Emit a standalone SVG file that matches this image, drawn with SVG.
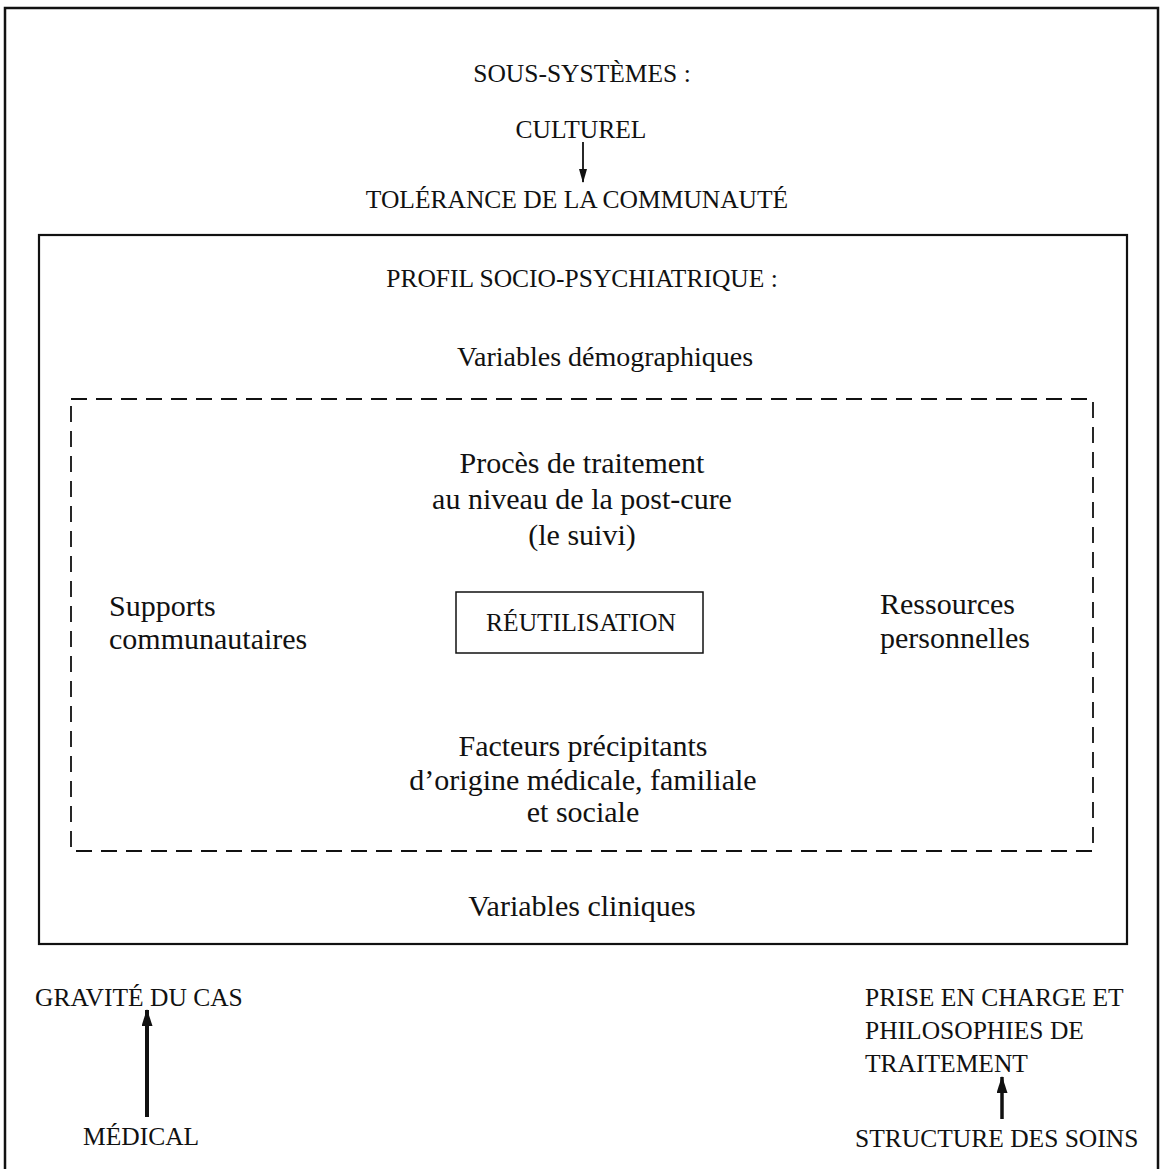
<svg xmlns="http://www.w3.org/2000/svg" width="1168" height="1169" viewBox="0 0 1168 1169">
<style>
text{font-family:"Liberation Serif","Times New Roman",serif;font-size:25.5px;fill:#111}
.lc{font-size:30px}
.c{text-anchor:middle}
.frame{fill:none;stroke:#111}
.arrow{stroke:#111;fill:none}
</style>
<defs>
<marker id="ahThin" markerWidth="14" markerHeight="8" refX="13" refY="4" orient="auto" markerUnits="userSpaceOnUse" viewBox="0 0 14 8">
<path d="M0,0 L14,4 L0,8 Z" fill="#111"/>
</marker>
<marker id="ahThick" markerWidth="17" markerHeight="11" refX="16" refY="5.5" orient="auto" markerUnits="userSpaceOnUse" viewBox="0 0 17 11">
<path d="M0,0 L17,5.5 L0,11 Z" fill="#111"/>
</marker>
</defs>
<rect width="1168" height="1169" fill="#fff"/>
<g id="outer-frame"><path class="frame" stroke-width="2.5" d="M5,1169 V8 H1158 V1169"/></g>
<g id="profil-box"><rect class="frame" stroke-width="2.2" x="39" y="235" width="1088" height="709"/></g>
<g id="dashed-box"><rect class="frame" stroke-width="1.8" stroke-dasharray="16 9" x="71" y="399" width="1022" height="452"/></g>

<g id="title"><text class="c" x="582" y="82">SOUS-SYSTÈMES :</text></g>
<g id="culturel"><text class="c" x="581" y="138">CULTUREL</text></g>
<g id="tolerance"><text class="c" x="577" y="208">TOLÉRANCE DE LA COMMUNAUTÉ</text></g>
<g id="profil"><text class="c" x="582" y="287">PROFIL SOCIO-PSYCHIATRIQUE :</text></g>
<g id="demographiques"><text class="c lc" x="605" y="366" style="font-size:28px">Variables démographiques</text></g>
<g id="proces"><text class="c lc" x="582" y="473">Procès de traitement</text><text class="c lc" x="582" y="509">au niveau de la post-cure</text><text class="c lc" x="582" y="545">(le suivi)</text></g>
<g id="supports"><text class="lc" x="109" y="616">Supports</text><text class="lc" x="109" y="649">communautaires</text></g>
<g id="reutilisation"><rect class="frame" stroke-width="1.5" x="456" y="592" width="247" height="61"/><text class="c" x="581" y="631">RÉUTILISATION</text></g>
<g id="ressources"><text class="lc" x="880" y="614">Ressources</text><text class="lc" x="880" y="648">personnelles</text></g>
<g id="facteurs"><text class="c lc" x="583" y="756">Facteurs précipitants</text><text class="c lc" x="583" y="790">d’origine médicale, familiale</text><text class="c lc" x="583" y="822">et sociale</text></g>
<g id="cliniques"><text class="c lc" x="582" y="916">Variables cliniques</text></g>
<g id="gravite"><text x="35" y="1006">GRAVITÉ DU CAS</text></g>
<g id="medical"><text x="83" y="1145">MÉDICAL</text></g>
<g id="prise"><text x="865" y="1006">PRISE EN CHARGE ET</text><text x="865" y="1039">PHILOSOPHIES DE</text><text x="865" y="1072">TRAITEMENT</text></g>
<g id="structure"><text x="855" y="1147">STRUCTURE DES SOINS</text></g>

<g id="connectors">
<line class="arrow" stroke-width="1.8" x1="583" y1="142" x2="583" y2="182" marker-end="url(#ahThin)"/>
<line class="arrow" stroke-width="4" x1="147" y1="1117" x2="147" y2="1010" marker-end="url(#ahThick)"/>
<line class="arrow" stroke-width="3.5" x1="1002" y1="1119" x2="1002" y2="1077" marker-end="url(#ahThick)"/>
</g>
</svg>
